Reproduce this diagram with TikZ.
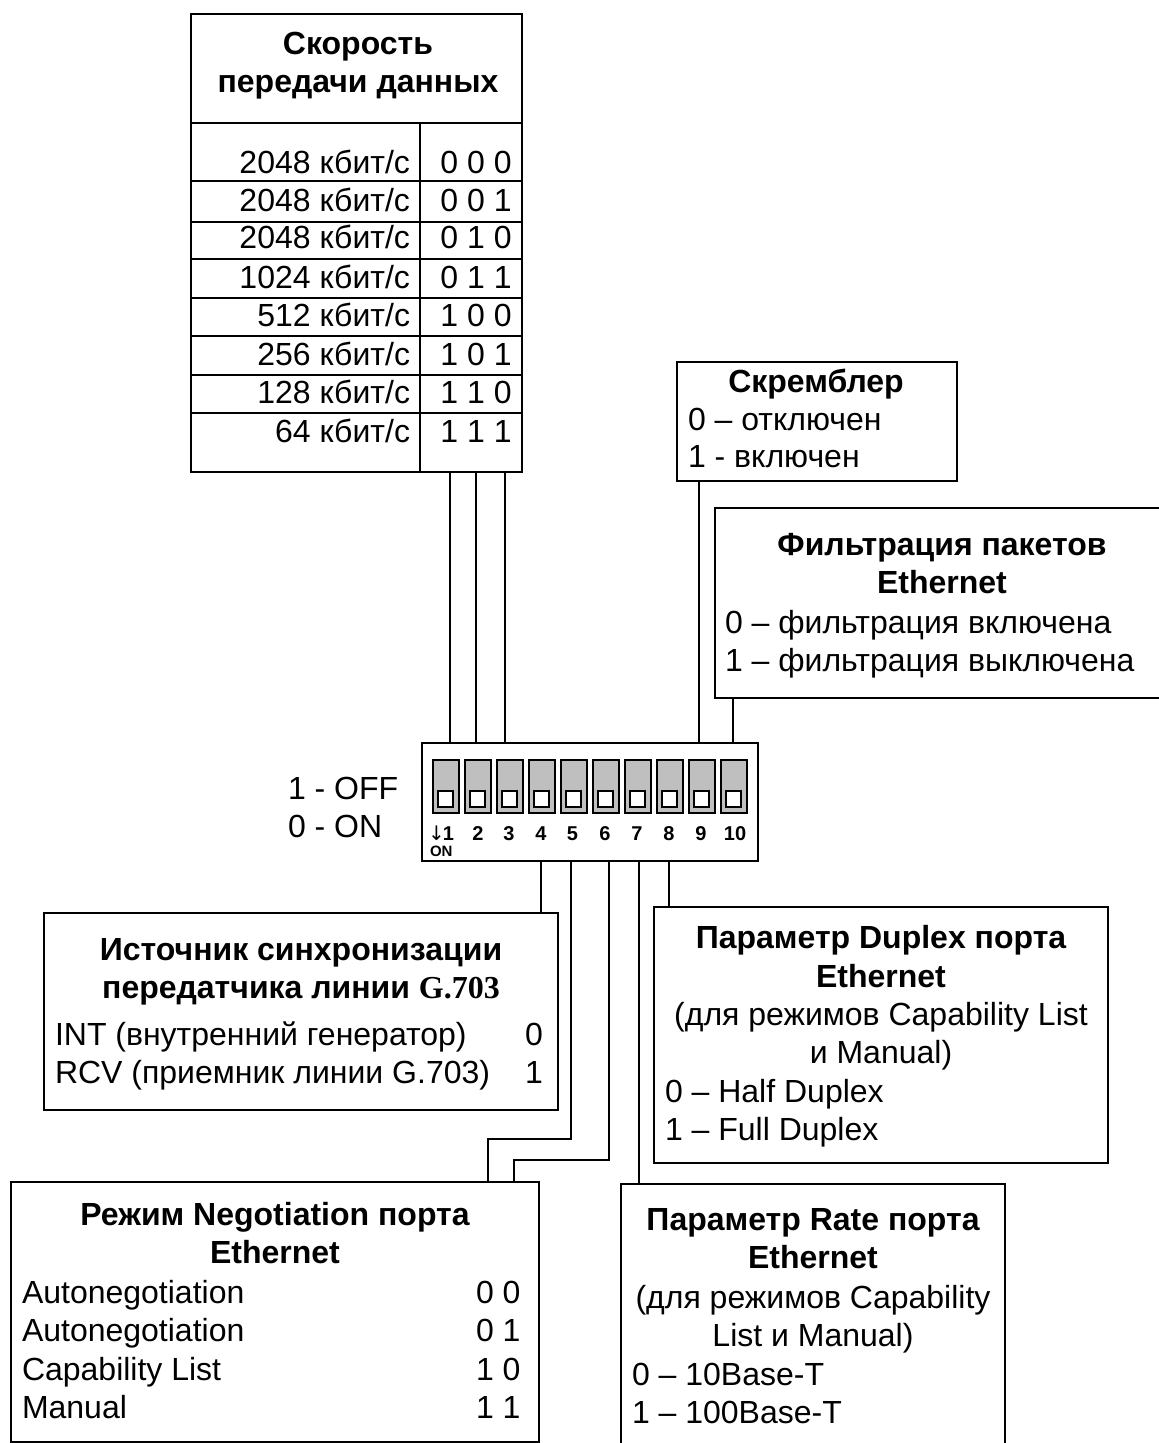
\documentclass[tikz,border=0pt]{standalone}
\usepackage{fontspec}
\setmainfont{Liberation Sans}
\newfontfamily\serifb{Liberation Serif}
\newfontfamily\arrowf{DejaVu Sans}
\newcommand{\fs}{\fontsize{32}{38}\selectfont}
\tikzset{
  x=1pt,y=-1pt,
  line/.style={draw=black,line width=1.7pt},
  wire/.style={draw=black,line width=1.5pt},
  boxn/.style={line,anchor=north west,inner sep=0pt,outer sep=0pt,fill=white},
  txt/.style={inner sep=0pt,outer sep=0pt,font=\fs},
  tl/.style={txt,anchor=base west},
  tr/.style={txt,anchor=base east},
  tc/.style={txt,anchor=base},
  tb/.style={tc,font=\fs\bfseries},
  swb/.style={draw=black,line width=2pt,fill=black!25,minimum width=26pt,minimum height=53pt,inner sep=0pt,outer sep=0pt},
  swk/.style={draw=black,line width=2pt,fill=white,minimum width=15.5pt,minimum height=15.5pt,inner sep=0pt,outer sep=0pt},
  swl/.style={inner sep=0pt,outer sep=0pt,anchor=base,font=\fontsize{20}{20}\selectfont\bfseries},
}
\newcommand{\bx}[5]{\node[boxn,minimum width=#4pt-#2pt,minimum height=#5pt-#3pt] (#1) at (#2,#3) {};}
\begin{document}
\begin{tikzpicture}
\useasboundingbox (0,0) rectangle (1159,1443);
\clip (0,0) rectangle (1159,1443);
\fill[white] (0,0) rectangle (1159,1443);
% chip and switches
\bx{chip}{422}{743}{758}{861}
\foreach \i/\x/\lx in {1/445.5/0,2/477.5/478,3/509.5/509,4/541.5/541,5/573.5/572.5,6/605.5/605,7/637.5/637,8/669.5/669,9/701.5/701,10/733.5/735}{
  \node[swb] (sw\i) at (\x,786) {};
  \node[swk] (k\i) at (\x,799) {};
  \ifnum\i>1 \node[swl] (l\i) at (\lx,840) {\i}; \fi
}
\node[swl,anchor=base west] (l1) at (428,840) {{\arrowf\mdseries\fontsize{20}{20}\selectfont\char"2193}\kern-2pt 1};
\node[swl,anchor=base west,font=\fontsize{15}{15}\selectfont\bfseries] (on) at (430,856) {ON};
% speed table
\bx{speed}{191}{14}{522}{472}
\coordinate (hdl) at (191,123); \coordinate (hdr) at (522,123);
\draw[line] (hdl) -- (hdr);
\draw[line] (420,123) -- (420,472);
\foreach \y in {181,222,259,298,336,375,413}{\draw[line] (191,\y) -- (522,\y);}
\node[tb] (st1) at (358,54) {Скорость};
\node[tb] (st2) at (358,92) {передачи данных};
\foreach \n/\y/\t/\c in {a/173/2048/0 0 0,b/211/2048/0 0 1,c/248/2048/0 1 0,d/288/1024/0 1 1,e/326/512/1 0 0,f/365/256/1 0 1,g/403/128/1 1 0,h/442/64/1 1 1}{
  \node[tr] (r\n) at (410,\y) {\t{} кбит/с};
  \node[tc] (v\n) at (476,\y) {\c};
}
% scrambler
\bx{scr}{677}{362}{957}{481}
\node[tb] (scr1) at (816,392) {Скремблер};
\node[tl] (scr2) at (688,430) {0 – отключен};
\node[tl] (scr3) at (688,467) {1 - включен};
% filter (its right side lies beyond the page)
\bx{fil}{715}{508}{1170}{698}
\node[tb] (f1) at (942,555) {Фильтрация пакетов};
\node[tb] (f2) at (942,593) {Ethernet};
\node[tl] (f3) at (725,633) {0 – фильтрация включена};
\node[tl] (f4) at (725,671) {1 – фильтрация выключена};
% on/off
\node[tl] (off) at (288,799) {1 - OFF};
\node[tl] (onn) at (288,837) {0 - ON};
% source
\bx{src}{44}{913}{558}{1110}
\node[tb] (s1) at (301,960) {Источник синхронизации};
\node[tb] (s2) at (301,998) {передатчика линии {\serifb G.703}};
\node[tl] (s3) at (55,1045) {INT (внутренний генератор)};
\node[tl] (s4) at (55,1083) {RCV (приемник линии G.703)};
\node[tl] (s5) at (525,1045) {0};
\node[tl] (s6) at (525,1083) {1};
% duplex
\bx{dup}{654}{907}{1108}{1163}
\node[tb] (d1) at (881,948) {Параметр Duplex порта};
\node[tb] (d2) at (881,987) {Ethernet};
\node[tc] (d3) at (881,1025) {(для режимов Capability List};
\node[tc] (d4) at (881,1063) {и Manual)};
\node[tl] (d5) at (665,1102) {0 – Half Duplex};
\node[tl] (d6) at (665,1140) {1 – Full Duplex};
% negotiation
\bx{neg}{11}{1182}{539}{1442}
\node[tb] (n1) at (275,1225) {Режим Negotiation порта};
\node[tb] (n2) at (275,1263) {Ethernet};
\foreach \n/\y/\t/\c in {a/1303/Autonegotiation/0 0,b/1341/Autonegotiation/0 1,c/1380/Capability List/1 0,d/1418/Manual/1 1}{
  \node[tl] (nl\n) at (22,\y) {\t};
  \node[tl] (nv\n) at (476,\y) {\c};
}
% rate (its bottom lies beyond the page)
\bx{rate}{621}{1184}{1005}{1460}
\node[tb] (q1) at (813,1230) {Параметр Rate порта};
\node[tb] (q2) at (813,1268) {Ethernet};
\node[tc] (q3) at (813,1308) {(для режимов Capability};
\node[tc] (q4) at (813,1346) {List и Manual)};
\node[tl] (q5) at (632,1385) {0 – 10Base-T};
\node[tl] (q6) at (632,1423) {1 – 100Base-T};
% connectors
\coordinate (c1) at (450,0); \coordinate (c2) at (476,0); \coordinate (c3) at (505,0);
\coordinate (c9) at (699,0); \coordinate (c10) at (733,0);
\coordinate (b4) at (541,0); \coordinate (b5) at (571,0); \coordinate (b6) at (609,0); \coordinate (b7) at (639,0); \coordinate (b8) at (669,0);
\coordinate (n5) at (488,0); \coordinate (n6) at (514,0);
\draw[wire] (speed.south east -| c1) -- (chip.north -| c1);
\draw[wire] (speed.south east -| c2) -- (chip.north -| c2);
\draw[wire] (speed.south east -| c3) -- (chip.north -| c3);
\draw[wire] (scr.south east -| c9) -- (chip.north -| c9);
\draw[wire] (fil.south east -| c10) -- (chip.north -| c10);
\draw[wire] (chip.south -| b4) -- (src.north -| b4);
\draw[wire] (chip.south -| b8) -- (dup.north -| b8);
\draw[wire] (chip.south -| b7) -- (rate.north -| b7);
\draw[wire] (chip.south -| b5) |- (n5 |- 0,1139) -- (neg.north -| n5);
\draw[wire] (chip.south -| b6) |- (n6 |- 0,1160) -- (neg.north -| n6);
\end{tikzpicture}
\end{document}
